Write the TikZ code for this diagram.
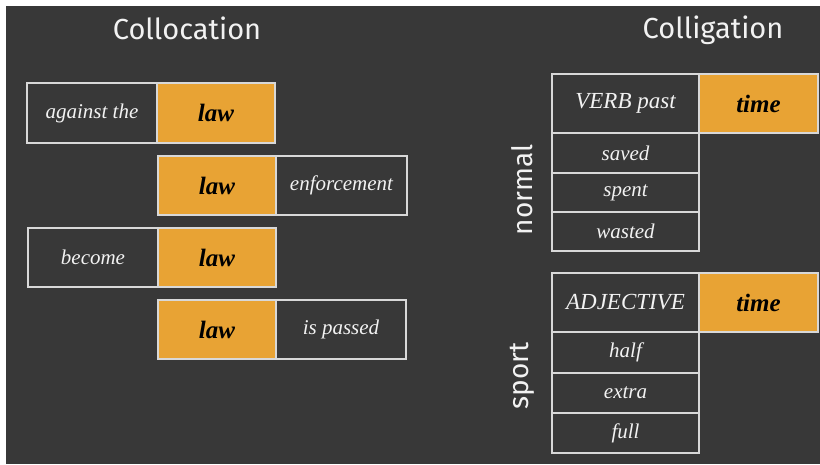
\documentclass[tikz,border=0pt]{standalone}
\usepackage{fontspec}
\setmainfont{Liberation Serif}
\newfontfamily\headfont{Fira Sans}
\definecolor{bgdark}{HTML}{383838}
\definecolor{cellorange}{HTML}{E8A334}
\definecolor{cellline}{HTML}{D8D8D8}
\definecolor{txtlight}{HTML}{F2F2F2}
\begin{document}
\begin{tikzpicture}[x=1pt,y=-1pt,
  cell/.style={draw=cellline, line width=1.3pt, fill=bgdark, inner sep=0pt,
    text=txtlight, font=\fontsize{21}{24}\selectfont\itshape},
  capcell/.style={cell, font=\fontsize{23}{26}\selectfont\itshape},
  keycell/.style={cell, fill=cellorange, text=black,
    font=\fontsize{25}{28}\selectfont\bfseries\itshape},
  head/.style={text=txtlight, font=\headfont\fontsize{29}{32}\selectfont},
  side/.style={text=txtlight, font=\headfont\fontsize{28}{30}\selectfont, rotate=90}]
\useasboundingbox (0,0) rectangle (820,464);
\fill[white] (0,0) rectangle (820,464);
\fill[bgdark] (6,6) rectangle (820,464);
% titles
\node[head] (tcoll) at (187,28) {Collocation};
\node[head] (tcolg) at (713,30) {Colligation};
% collocation rows
\node[cell, minimum width=130pt, minimum height=60pt] (a1) at (92,113) {against the};
\node[keycell, minimum width=118pt, minimum height=60pt] (l1) at (216,113) {law};
\node[keycell, minimum width=118pt, minimum height=59pt] (l2) at (217,185.5) {law};
\node[cell, minimum width=131pt, minimum height=59pt] (e2) at (341.5,185.5) {enforcement};
\node[cell, minimum width=130pt, minimum height=59pt] (b3) at (93,257.5) {become};
\node[keycell, minimum width=118pt, minimum height=59pt] (l3) at (217,257.5) {law};
\node[keycell, minimum width=118pt, minimum height=59pt] (l4) at (217,329.5) {law};
\node[cell, minimum width=130pt, minimum height=59pt] (p4) at (341,329.5) {is passed};
% colligation: normal
\node[side] (normal) at (522,190) {normal};
\node[capcell, minimum width=147pt, minimum height=59pt] (vp) at (625.5,103.5) {VERB past};
\node[keycell, minimum width=119pt, minimum height=59pt] (t1) at (758.5,103.5) {time};
\node[cell, minimum width=147pt, minimum height=39pt] (saved) at (625.5,153) {saved};
\node[cell, minimum width=147pt, minimum height=39pt] (spent) at (625.5,192.5) {spent};
\node[cell, minimum width=147pt, minimum height=39pt] (wasted) at (625.5,231.5) {wasted};
% colligation: sport
\node[side] (sport) at (522,376) {sport};
\node[capcell, minimum width=147pt, minimum height=59pt] (adj) at (625.5,302.5) {ADJECTIVE};
\node[keycell, minimum width=119pt, minimum height=59pt] (t2) at (758.5,302.5) {time};
\node[cell, minimum width=147pt, minimum height=41pt] (half) at (625.5,352.5) {half};
\node[cell, minimum width=147pt, minimum height=40pt] (extra) at (625.5,393) {extra};
\node[cell, minimum width=147pt, minimum height=40pt] (full) at (625.5,433) {full};
\end{tikzpicture}
\end{document}
